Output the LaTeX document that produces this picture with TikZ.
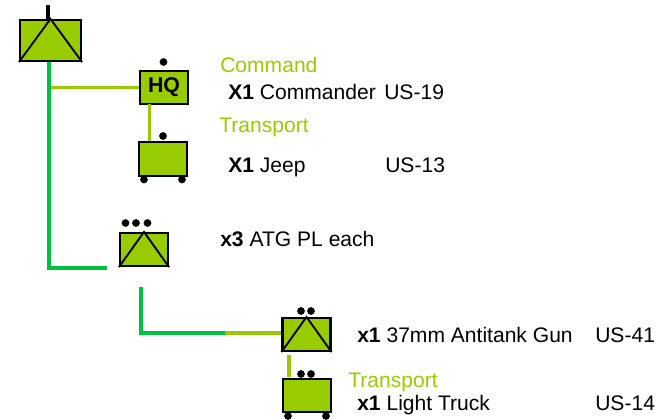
\documentclass[tikz,border=0pt]{standalone}
\usepackage{fontspec}
\setmainfont{Liberation Sans}
\usepackage{xcolor}
\usetikzlibrary{calc}
\definecolor{lime}{HTML}{99CC00}
\definecolor{branch}{HTML}{00C040}

\begin{document}
\begin{tikzpicture}[
  x=0.75pt, y=-0.75pt,
  font=\fontsize{15.8}{18}\selectfont,
  unitbox/.style={draw=black, line width=1.6pt, fill=lime, inner sep=0pt, minimum width=#1*0.75pt},
  pip/.style={circle, fill=black, inner sep=0pt, minimum size=5.8pt},
  limeline/.style={draw=lime, line width=2.6pt},
  greenline/.style={draw=branch, line width=2.6pt},
  lbl/.style={anchor=base west, inner sep=0pt},
  head/.style={lbl, text=lime},
]
\useasboundingbox (0,0) rectangle (664,420);
% connectors
\coordinate (bar) at (48,5);
\coordinate (corner) at (49,268);
\coordinate (plstub) at (107,268);
\coordinate (plout) at (141,287);
\coordinate (plcorner) at (141,333);
\coordinate (plmid) at (225,333);
\coordinate (hqdrop) at (149.5,104);
\coordinate (gundrop) at (289,355);
\coordinate (truckdrop) at (289,377);

% company
\node[unitbox=61, minimum height=30.75pt] (coy) at (50.5,40.5) {};
\draw[line width=1.4pt] (coy.south west) -- (coy.north) -- (coy.south east);
\draw[line width=2.6pt] (bar) -- (bar |- coy.north);

% HQ and jeep
\node[unitbox=48, minimum height=24.75pt, font=\fontsize{16}{18}\selectfont\bfseries] (hq) at (164,87.5) {HQ};
\node[pip] (hqpip) at (163.5,62) {};
\node[unitbox=48, minimum height=25.5pt] (jeep) at (163,159) {};
\node[pip] (jeeppip) at (163,136) {};
\node[pip] (jeepl) at (144,179.5) {};
\node[pip] (jeepr) at (182,179.5) {};
\draw[limeline] (corner |- hq.west) -- (hq.west);
\draw[limeline] (hqdrop) -- (hqdrop |- jeep.north);
\draw[greenline] (corner |- coy.south) -- (corner) -- (plstub);

% platoon
\node[unitbox=48, minimum height=24.75pt] (pl) at (144,249.5) {};
\draw[line width=1.4pt] (pl.south west) -- (pl.north) -- (pl.south east);
\node[pip] (plpa) at (125.5,223) {};
\node[pip] (plpb) at (136,223) {};
\node[pip] (plpc) at (147.5,223) {};

% gun and truck
\node[unitbox=48, minimum height=24.75pt] (gun) at (306.5,334.5) {};
\draw[line width=1.4pt] (gun.south west) -- (gun.north) -- (gun.south east);
\node[pip] (gunpa) at (301,311) {};
\node[pip] (gunpb) at (311,311) {};
\node[unitbox=48, minimum height=24.75pt] (truck) at (307,395.5) {};
\node[pip] (truckpa) at (301,374) {};
\node[pip] (truckpb) at (311,374) {};
\node[pip] (truckl) at (288,416) {};
\node[pip] (truckr) at (326,416) {};
\draw[greenline] (plout) -- (plcorner) -- (plmid);
\draw[limeline] (plmid) -- (gun.west |- plmid);
\draw[limeline] (gundrop) -- (truckdrop);

% labels
\node[head] (cmdhead) at (220,72.5) {Command};
\node[lbl] (cmdname) at (228,100) {\textbf{X1} Commander};
\node[lbl] (cmdcode) at (384,100) {US-19};
\node[head] (jeephead) at (219,132.5) {Transport};
\node[lbl] (jeepname) at (228,172.5) {\textbf{X1} Jeep};
\node[lbl] (jeepcode) at (385,172.5) {US-13};
\node[lbl] (pllabel) at (220,247) {\textbf{x3} ATG PL each};
\node[lbl] (gunname) at (357,342) {\textbf{x1} 37mm Antitank Gun};
\node[lbl] (guncode) at (595,342) {US-41};
\node[head] (truckhead) at (348,387.5) {Transport};
\node[lbl] (truckname) at (357,410.5) {\textbf{x1} Light Truck};
\node[lbl] (truckcode) at (595,410.5) {US-14};
\end{tikzpicture}
\end{document}
